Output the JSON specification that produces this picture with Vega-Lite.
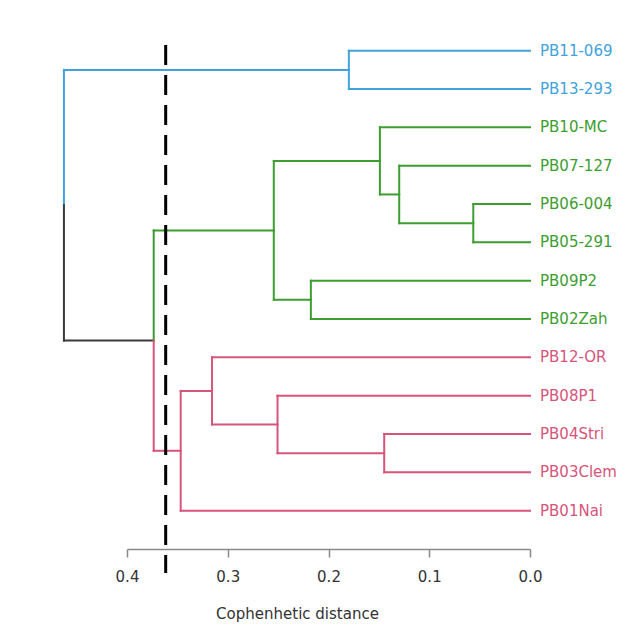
{
  "$schema": "https://vega.github.io/schema/vega-lite/v6.json",
  "autosize": {"type": "none"},
  "width": 403,
  "height": 504,
  "padding": {"left": 127, "top": 45, "right": 101, "bottom": 84},
  "background": "white",
  "config": {"view": {"stroke": null}, "font": "DejaVu Sans"},
  "datasets": {
    "segs": [
      {"d1": 0.4626, "d2": 0.4626, "p1": 0.5, "p2": 4.03125, "cluster": "blue"},
      {"d1": 0.4626, "d2": 0.1798, "p1": 0.5, "p2": 0.5, "cluster": "blue"},
      {"d1": 0.1798, "d2": 0.1798, "p1": 0, "p2": 1, "cluster": "blue"},
      {"d1": 0.1798, "d2": 0, "p1": 0, "p2": 0, "cluster": "blue"},
      {"d1": 0.1798, "d2": 0, "p1": 1, "p2": 1, "cluster": "blue"},
      {"d1": 0.4626, "d2": 0.4626, "p1": 4.03125, "p2": 7.5625, "cluster": "black"},
      {"d1": 0.4626, "d2": 0.3735, "p1": 7.5625, "p2": 7.5625, "cluster": "black"},
      {"d1": 0.3735, "d2": 0.3735, "p1": 4.6875, "p2": 7.5625, "cluster": "green"},
      {"d1": 0.3735, "d2": 0.2543, "p1": 4.6875, "p2": 4.6875, "cluster": "green"},
      {"d1": 0.2543, "d2": 0.2543, "p1": 2.875, "p2": 6.5, "cluster": "green"},
      {"d1": 0.2543, "d2": 0.149, "p1": 2.875, "p2": 2.875, "cluster": "green"},
      {"d1": 0.149, "d2": 0.149, "p1": 2, "p2": 3.75, "cluster": "green"},
      {"d1": 0.149, "d2": 0, "p1": 2, "p2": 2, "cluster": "green"},
      {"d1": 0.149, "d2": 0.1298, "p1": 3.75, "p2": 3.75, "cluster": "green"},
      {"d1": 0.1298, "d2": 0.1298, "p1": 3, "p2": 4.5, "cluster": "green"},
      {"d1": 0.1298, "d2": 0, "p1": 3, "p2": 3, "cluster": "green"},
      {"d1": 0.1298, "d2": 0.0563, "p1": 4.5, "p2": 4.5, "cluster": "green"},
      {"d1": 0.0563, "d2": 0.0563, "p1": 4, "p2": 5, "cluster": "green"},
      {"d1": 0.0563, "d2": 0, "p1": 4, "p2": 4, "cluster": "green"},
      {"d1": 0.0563, "d2": 0, "p1": 5, "p2": 5, "cluster": "green"},
      {"d1": 0.2543, "d2": 0.2175, "p1": 6.5, "p2": 6.5, "cluster": "green"},
      {"d1": 0.2175, "d2": 0.2175, "p1": 6, "p2": 7, "cluster": "green"},
      {"d1": 0.2175, "d2": 0, "p1": 6, "p2": 6, "cluster": "green"},
      {"d1": 0.2175, "d2": 0, "p1": 7, "p2": 7, "cluster": "green"},
      {"d1": 0.3735, "d2": 0.3735, "p1": 7.5625, "p2": 10.4375, "cluster": "pink"},
      {"d1": 0.3735, "d2": 0.3467, "p1": 10.4375, "p2": 10.4375, "cluster": "pink"},
      {"d1": 0.3467, "d2": 0.3467, "p1": 8.875, "p2": 12, "cluster": "pink"},
      {"d1": 0.3467, "d2": 0.3156, "p1": 8.875, "p2": 8.875, "cluster": "pink"},
      {"d1": 0.3156, "d2": 0.3156, "p1": 8, "p2": 9.75, "cluster": "pink"},
      {"d1": 0.3156, "d2": 0, "p1": 8, "p2": 8, "cluster": "pink"},
      {"d1": 0.3156, "d2": 0.2506, "p1": 9.75, "p2": 9.75, "cluster": "pink"},
      {"d1": 0.2506, "d2": 0.2506, "p1": 9, "p2": 10.5, "cluster": "pink"},
      {"d1": 0.2506, "d2": 0, "p1": 9, "p2": 9, "cluster": "pink"},
      {"d1": 0.2506, "d2": 0.1447, "p1": 10.5, "p2": 10.5, "cluster": "pink"},
      {"d1": 0.1447, "d2": 0.1447, "p1": 10, "p2": 11, "cluster": "pink"},
      {"d1": 0.1447, "d2": 0, "p1": 10, "p2": 10, "cluster": "pink"},
      {"d1": 0.1447, "d2": 0, "p1": 11, "p2": 11, "cluster": "pink"},
      {"d1": 0.3467, "d2": 0, "p1": 12, "p2": 12, "cluster": "pink"}
    ],
    "leaves": [
      {"name": "PB11-069", "pos": 0, "dist": 0, "cluster": "blue"},
      {"name": "PB13-293", "pos": 1, "dist": 0, "cluster": "blue"},
      {"name": "PB10-MC", "pos": 2, "dist": 0, "cluster": "green"},
      {"name": "PB07-127", "pos": 3, "dist": 0, "cluster": "green"},
      {"name": "PB06-004", "pos": 4, "dist": 0, "cluster": "green"},
      {"name": "PB05-291", "pos": 5, "dist": 0, "cluster": "green"},
      {"name": "PB09P2", "pos": 6, "dist": 0, "cluster": "green"},
      {"name": "PB02Zah", "pos": 7, "dist": 0, "cluster": "green"},
      {"name": "PB12-OR", "pos": 8, "dist": 0, "cluster": "pink"},
      {"name": "PB08P1", "pos": 9, "dist": 0, "cluster": "pink"},
      {"name": "PB04Stri", "pos": 10, "dist": 0, "cluster": "pink"},
      {"name": "PB03Clem", "pos": 11, "dist": 0, "cluster": "pink"},
      {"name": "PB01Nai", "pos": 12, "dist": 0, "cluster": "pink"}
    ],
    "cut": [
      {"d": 0.3616, "p1": -0.149, "p2": 13.626}
    ]
  },
  "layer": [
    {
      "data": {"name": "segs"},
      "mark": {"type": "rule", "strokeWidth": 2, "strokeCap": "square"},
      "encoding": {
        "x": {
          "field": "d1", "type": "quantitative",
          "scale": {"domain": [0, 0.4], "reverse": true, "nice": false, "zero": false},
          "axis": {
            "values": [0, 0.1, 0.2, 0.3, 0.4],
            "format": ".1f",
            "grid": false,
            "tickSize": 8,
            "tickWidth": 1.5,
            "domainWidth": 1.5,
            "domainColor": "#8a8a8a",
            "tickColor": "#8a8a8a",
            "labelColor": "#333333",
            "labelFontSize": 15,
            "labelPadding": 12,
            "labelFlush": false,
            "title": "Cophenhetic distance",
            "titleFontSize": 15,
            "titleFontWeight": "normal",
            "titleColor": "#333333",
            "titlePadding": 22,
            "titleX": 170
          }
        },
        "x2": {"field": "d2"},
        "y": {
          "field": "p1", "type": "quantitative",
          "scale": {"domain": [-0.149, 13.0], "reverse": true, "nice": false, "zero": false},
          "axis": null
        },
        "y2": {"field": "p2"},
        "color": {
          "field": "cluster", "type": "nominal",
          "scale": {"domain": ["blue", "green", "pink", "black"], "range": ["#40a3dd", "#3c9e2f", "#d6557a", "#3a3a3a"]},
          "legend": null
        }
      }
    },
    {
      "data": {"name": "cut"},
      "mark": {"type": "rule", "strokeWidth": 3, "strokeDash": [20, 10], "color": "black"},
      "encoding": {
        "x": {"field": "d", "type": "quantitative", "scale": {"domain": [0, 0.4], "reverse": true, "nice": false, "zero": false}},
        "y": {"field": "p1", "type": "quantitative", "scale": {"domain": [-0.149, 13.0], "reverse": true, "nice": false, "zero": false}},
        "y2": {"field": "p2"}
      }
    },
    {
      "data": {"name": "leaves"},
      "mark": {"type": "text", "align": "left", "baseline": "middle", "dx": 10, "fontSize": 15, "font": "DejaVu Sans"},
      "encoding": {
        "x": {"field": "dist", "type": "quantitative", "scale": {"domain": [0, 0.4], "reverse": true, "nice": false, "zero": false}},
        "y": {"field": "pos", "type": "quantitative", "scale": {"domain": [-0.149, 13.0], "reverse": true, "nice": false, "zero": false}},
        "text": {"field": "name", "type": "nominal"},
        "color": {
          "field": "cluster", "type": "nominal",
          "scale": {"domain": ["blue", "green", "pink", "black"], "range": ["#40a3dd", "#3c9e2f", "#d6557a", "#3a3a3a"]},
          "legend": null
        }
      }
    }
  ]
}
